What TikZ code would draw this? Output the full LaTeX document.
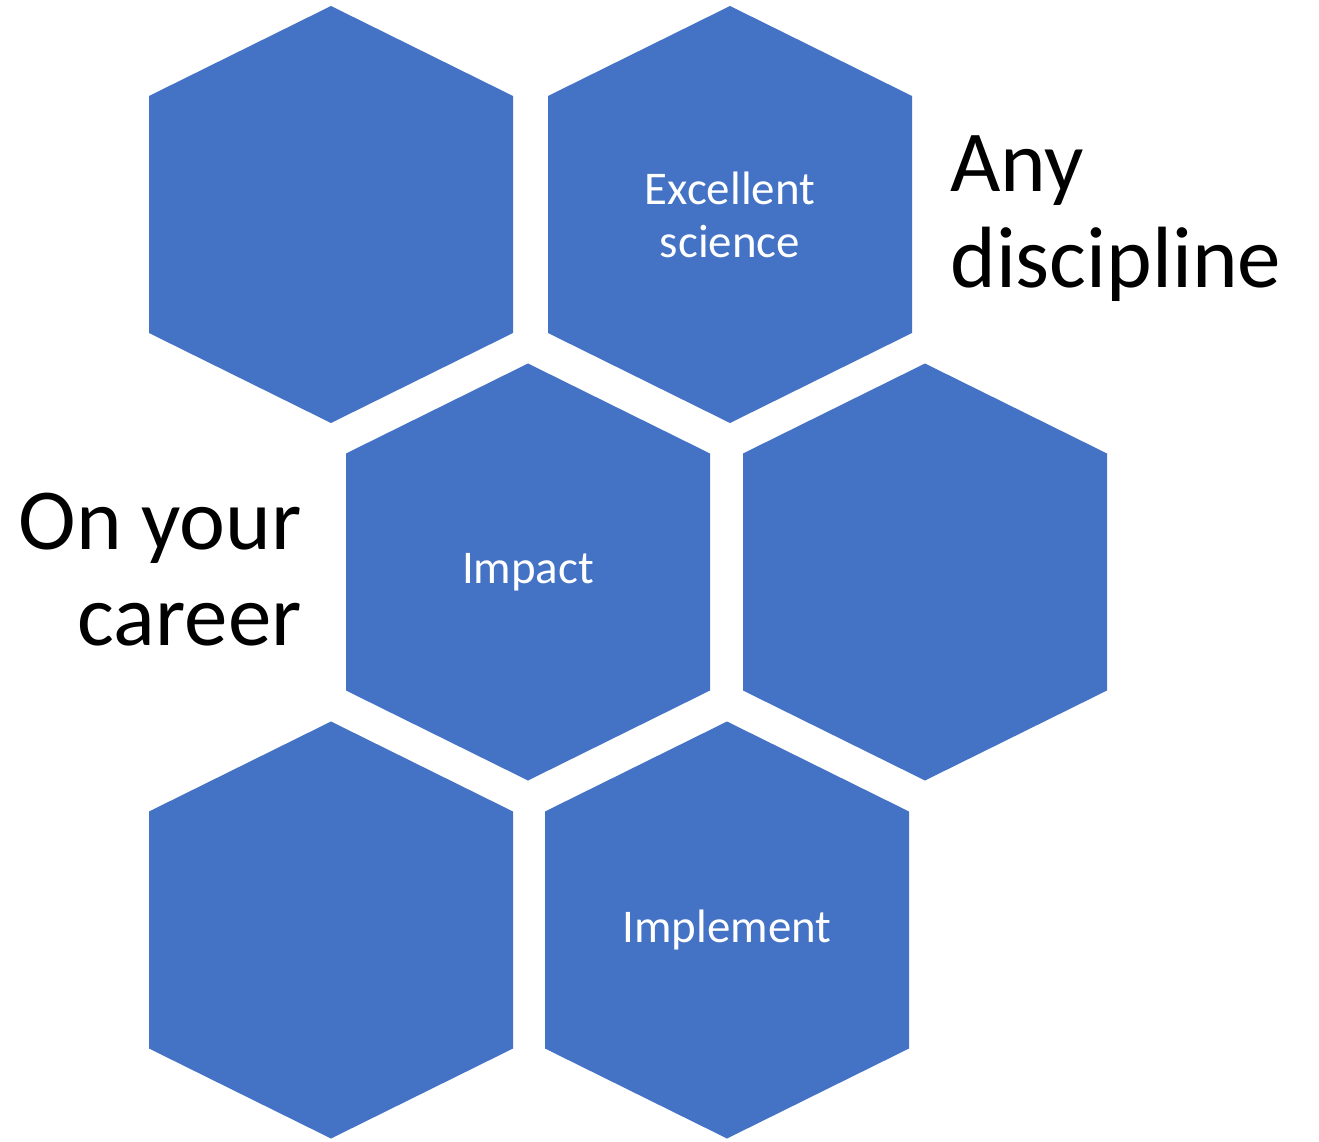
\documentclass[tikz,border=0pt]{standalone}
\usepackage{fontspec}
\setmainfont{Carlito}
\usetikzlibrary{positioning}

\definecolor{hexblue}{HTML}{4472C4}

\tikzset{
    hextext/.style={text=white, align=center, inner sep=0pt, font=\fontsize{26.7}{30.2}\selectfont},
    bigtext/.style={text=black, inner sep=0pt, font=\fontsize{49.5}{54.6}\selectfont},
    hexa/.pic={
        \fill[hexblue] (0,-208.5) -- (182,-118.5) -- (182,118.5) -- (0,208.5)
            -- (-182,118.5) -- (-182,-118.5) -- cycle;
        \node[hextext] (-txt) at (0,0) {#1};
    }
}

\begin{document}
\begin{tikzpicture}[x=0.02cm, y=-0.02cm]
    \useasboundingbox (0,0) rectangle (1319,1142);

    % Top row
    \pic (topleft) at (331,214.5) {hexa={}};
    \pic (science) at (730,214.5) {hexa={Excellent\\science}};

    % Middle row
    \pic (impact) at (528,572) {hexa={Impact}};
    \pic (midright) at (925,572) {hexa={}};

    % Bottom row
    \pic (botleft) at (331,930) {hexa={}};
    \pic (implement) at (727,930) {hexa={Implement}};

    % Labels beside the hexagons
    \node[bigtext, align=left, anchor=north west] (anydisc) at (950,135) {Any\\discipline};
    \node[bigtext, align=right, anchor=north east] (career) at (302,493) {On your\\career};
\end{tikzpicture}
\end{document}
